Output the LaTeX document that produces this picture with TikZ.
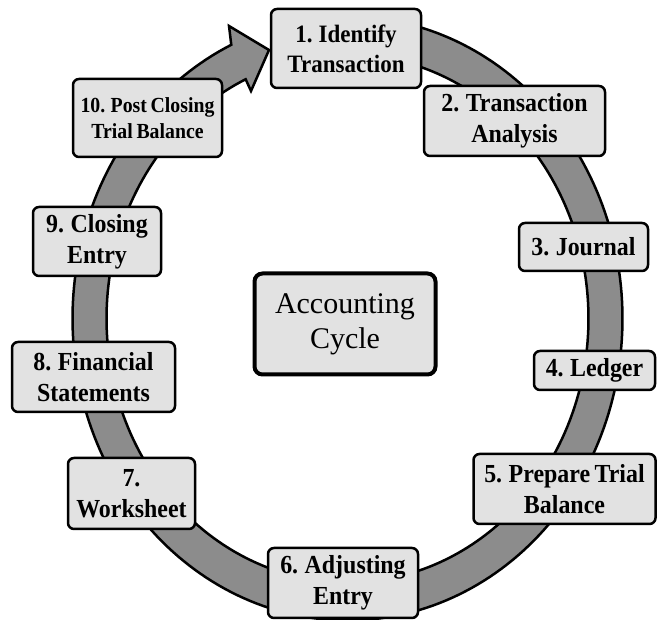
\documentclass[tikz,border=0pt]{standalone}
\usepackage{fontspec}
\setmainfont{Liberation Serif}
\newfontfamily\stepfont{Liberation Serif}[FakeStretch=0.92, WordSpace=0.75]
\definecolor{boxgray}{RGB}{226,226,226}
\definecolor{ringgray}{RGB}{140,140,140}
\tikzset{
  stepbox/.style={draw=black, line width=2.5pt, rounded corners=6pt, fill=boxgray,
    align=center, inner sep=0pt, font=\stepfont\bfseries\fontsize{26}{31}\selectfont},
  centerbox/.style={draw=black, line width=4pt, rounded corners=8pt, fill=boxgray,
    align=center, inner sep=0pt, font=\fontsize{30}{35}\selectfont},
  ringband/.style={draw=black, line width=2.5pt, fill=ringgray, line join=miter}
}
\begin{document}
\begin{tikzpicture}[x=1pt,y=-1pt]
\useasboundingbox (0,0) rectangle (657,620);
% arrow head points
\coordinate (barbout) at (229,26);
\coordinate (tip) at (269,50);
\coordinate (barbin) at (251,91);
% ring band with arrow head
\draw[ringband]
  plot[domain=100:-245, samples=240] ({347.5+275*cos(\x)},{318.5-302*sin(\x)})
  -- (barbout) -- (tip) -- (barbin)
  -- plot[domain=-245:100, samples=240] ({347.5+241*cos(\x)},{318.5-264*sin(\x)})
  -- cycle;
% steps
\node[stepbox, minimum width=150pt, minimum height=79pt, font=\stepfont\bfseries\fontsize{25}{30}\selectfont] (s1) at (346,48.5) {1. Identify\\Transaction};
\node[stepbox, minimum width=181pt, minimum height=70pt] (s2) at (514.5,121) {2. Transaction\\Analysis};
\node[stepbox, minimum width=129pt, minimum height=48pt] (s3) at (583.5,247) {3. Journal};
\node[stepbox, minimum width=121pt, minimum height=39pt] (s4) at (594.5,370.5) {4. Ledger};
\node[stepbox, minimum width=182pt, minimum height=70pt] (s5) at (564.5,489) {5. Prepare Trial\\Balance};
\node[stepbox, minimum width=150pt, minimum height=70pt] (s6) at (343,583) {6. Adjusting\\Entry};
\node[stepbox, minimum width=127pt, minimum height=71pt] (s7) at (131.5,493.5) {7.\\Worksheet};
\node[stepbox, minimum width=163pt, minimum height=70pt] (s8) at (93.5,377) {8. Financial\\Statements};
\node[stepbox, minimum width=128pt, minimum height=69pt] (s9) at (97,241.5) {9. Closing\\Entry};
\node[stepbox, minimum width=149pt, minimum height=78pt, font=\stepfont\bfseries\fontsize{21.5}{26}\selectfont] (s10) at (147.5,118) {10. Post Closing\\Trial Balance};
% center
\node[centerbox, minimum width=181pt, minimum height=101pt] (c) at (345,324) {Accounting\\Cycle};
\end{tikzpicture}
\end{document}
